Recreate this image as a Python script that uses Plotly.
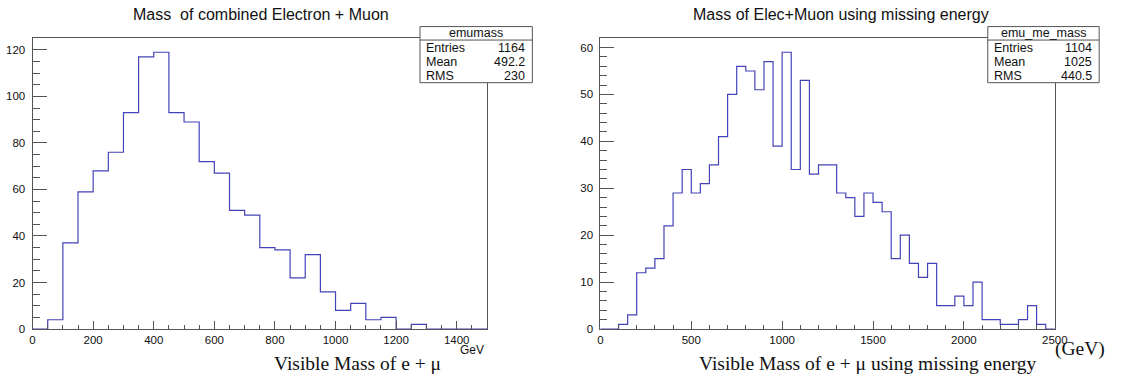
import plotly.graph_objects as go

W, H = 1123, 381

# ---- data ----
left_bin_width = 50
left_counts = [0, 4, 37, 59, 68, 76, 93, 117, 119, 93, 89, 72, 67, 51, 49, 35,
               34, 22, 32, 16, 8, 11, 4, 5, 0, 2, 0, 0, 0, 0]
right_bin_width = 50
right_counts = [0, 0, 1, 3, 12, 13, 15, 22, 29, 34, 29, 31, 35, 41, 50, 56, 55,
                51, 57, 39, 59, 34, 53, 33, 35, 35, 29, 28, 24, 29, 27, 25, 15,
                20, 14, 11, 14, 5, 5, 7, 5, 10, 2, 2, 1, 1, 2, 5, 1, 0]

left_title = "Mass \u00a0of combined Electron + Muon"
right_title = "Mass of Elec+Muon using missing energy"
left_stats = ("emumass", [("Entries", "1164"), ("Mean", "492.2"), ("RMS", "230")])
right_stats = ("emu_me_mass", [("Entries", "1104"), ("Mean", "1025"), ("RMS", "440.5")])

left_edges = [i * left_bin_width for i in range(len(left_counts) + 1)]
right_edges = [i * right_bin_width for i in range(len(right_counts) + 1)]

LINE = "#4343b8"
FRAME = "#555555"
SANS = "Liberation Sans, Arial, sans-serif"
SERIF = "Liberation Serif, Times New Roman, serif"

fig = go.Figure()
fig.add_trace(go.Scatter(x=left_edges, y=left_counts + [left_counts[-1]],
                         mode="lines", line=dict(shape="hv", color=LINE, width=1.2),
                         xaxis="x", yaxis="y", showlegend=False, hoverinfo="skip"))
fig.add_trace(go.Scatter(x=right_edges, y=right_counts + [right_counts[-1]],
                         mode="lines", line=dict(shape="hv", color=LINE, width=1.2),
                         xaxis="x2", yaxis="y2", showlegend=False, hoverinfo="skip"))

def px(x):
    return x / W

def py(y):
    return 1 - y / H

common = dict(showline=True, linecolor=FRAME, linewidth=1, mirror=True,
              ticks="inside", tickcolor=FRAME, tickwidth=1, showgrid=False,
              zeroline=False, tickfont=dict(family=SANS, size=11.5, color="#111"))

ydom = [py(334.3), py(39)]
fig.update_layout(
    width=W, height=H, margin=dict(l=0, r=0, t=0, b=0),
    paper_bgcolor="white", plot_bgcolor="white",
    xaxis=dict(domain=[px(30), px(491)], range=[0, 1500], anchor="y",
               tick0=0, dtick=200, ticklen=8,
               minor=dict(dtick=50, ticklen=4, ticks="inside", tickcolor=FRAME),
               **common),
    yaxis=dict(domain=ydom, range=[0, 1.05 * max(left_counts)], anchor="x",
               tick0=0, dtick=20, ticklen=14, ticklabelstandoff=4,
               minor=dict(dtick=5, ticklen=7, ticks="inside", tickcolor=FRAME),
               **common),
    xaxis2=dict(domain=[px(606), px(1067)], range=[0, 2500], anchor="y2",
                tick0=0, dtick=500, ticklen=8,
                minor=dict(dtick=100, ticklen=4, ticks="inside", tickcolor=FRAME),
                **common),
    yaxis2=dict(domain=ydom, range=[0, 1.05 * max(right_counts)], anchor="x2",
                tick0=0, dtick=10, ticklen=14, ticklabelstandoff=4,
                minor=dict(dtick=2, ticklen=7, ticks="inside", tickcolor=FRAME),
                **common),
)

ann = []
shapes = []

def text(x, y, s, size, family=SANS, xanchor="center", color="#111"):
    ann.append(dict(x=px(x), y=py(y), xref="paper", yref="paper", text=s,
                    showarrow=False, xanchor=xanchor, yanchor="middle",
                    font=dict(family=family, size=size, color=color)))

# titles
text(262, 15, left_title, 16)
text(850, 15, right_title, 16)

# axis titles
text(490, 356, "GeV", 12, xanchor="right")
text(360, 369, "Visible Mass of e + \u03bc", 19.5, family=SERIF)
text(877, 369, "Visible Mass of e + \u03bc using missing energy", 19.5, family=SERIF)
text(1120, 355, "(GeV)", 19.5, family=SERIF, xanchor="right")

# stats boxes
def stats_box(x0, x1, name, rows):
    y0, y1, ysep = 27, 84, 40.7
    shapes.append(dict(type="rect", xref="paper", yref="paper",
                       x0=px(x0), x1=px(x1), y0=py(y0), y1=py(y1),
                       line=dict(color=FRAME, width=1), fillcolor="white", layer="above"))
    shapes.append(dict(type="line", xref="paper", yref="paper",
                       x0=px(x0), x1=px(x1), y0=py(ysep), y1=py(ysep),
                       line=dict(color=FRAME, width=1), layer="above"))
    text((x0 + x1) / 2, 34, name, 12.5)
    for i, (k, v) in enumerate(rows):
        yy = 48.5 + i * 14.3
        text(x0 + 4, yy, k, 12.5, xanchor="left")
        text(x1 - 5, yy, v, 12.5, xanchor="right")

stats_box(423, 537, *left_stats)
stats_box(999, 1112, *right_stats)

fig.update_layout(annotations=ann, shapes=shapes)
fig.write_html("out.html")
